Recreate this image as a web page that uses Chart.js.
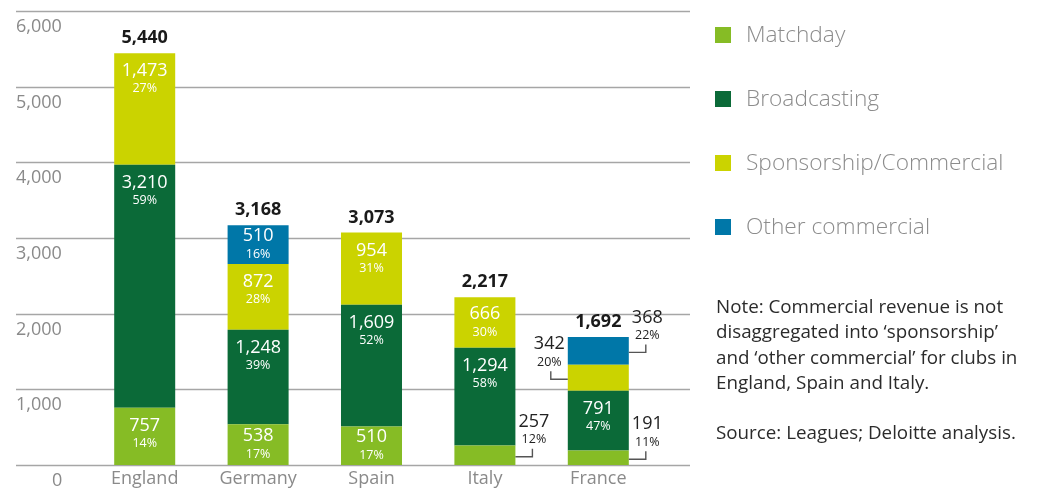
<!DOCTYPE html>
<html>
<head>
<meta charset="utf-8">
<script src="https://cdn.jsdelivr.net/npm/chart.js@4"></script>
<style>
  body { margin: 0; background: #fff; font-family: "Open Sans", sans-serif; }
  #wrap { position: relative; width: 1040px; height: 491px; overflow: hidden; }
  #chart { position: absolute; left: 0; top: 0; }
  .legend-item { position: absolute; left: 715px; height: 16px; }
  .legend-item .sw { position: absolute; left: 0; top: 0; width: 16px; height: 16px; }
  .legend-item .lbl { position: absolute; left: 31px; top: -8px; line-height: 30px; font-size: 22.7px; font-weight: 300; color: #8c8c8c; white-space: nowrap; }
  #note { position: absolute; left: 716px; top: 294px; font-size: 18.8px; line-height: 25.3px; color: #2b2b2b; white-space: nowrap; }
</style>
</head>
<body>
<div id="wrap">
  <canvas id="chart" width="1040" height="491"></canvas>
  <div id="legend"></div>
  <div id="note">Note: Commercial revenue is not<br>disaggregated into ‘sponsorship’<br>and ‘other commercial’ for clubs in<br>England, Spain and Italy.<br><br>Source: Leagues; Deloitte analysis.</div>
</div>
<script>
const categories = ['England', 'Germany', 'Spain', 'Italy', 'France'];
const seriesNames = ['Matchday', 'Broadcasting', 'Sponsorship/Commercial', 'Other commercial'];
const matchday = [757, 538, 510, 257, 191];
const broadcasting = [3210, 1248, 1609, 1294, 791];
const sponsorship = [1473, 872, 954, 666, 342];
const otherCommercial = [null, 510, null, null, 368];
const matchdayPct = [14, 17, 17, 12, 11];
const broadcastingPct = [59, 39, 52, 58, 47];
const sponsorshipPct = [27, 28, 31, 30, 20];
const otherPct = [null, 16, null, null, 22];
const totals = [5440, 3168, 3073, 2217, 1692];
const yTicks = [0, 1000, 2000, 3000, 4000, 5000, 6000];

const colors = ['#86bc25', '#0b6a38', '#cbd300', '#0077a8'];
const pcts = [matchdayPct, broadcastingPct, sponsorshipPct, otherPct];
// small segments labelled outside the bar: "dataset-category" -> side
const callouts = { '0-3': 'right', '0-4': 'right', '2-4': 'left', '3-4': 'right' };

const fmt = v => v.toLocaleString('en-US');

// legend as plain html
const legendEl = document.getElementById('legend');
seriesNames.forEach((name, i) => {
    const d = document.createElement('div');
    d.className = 'legend-item';
    d.style.top = (27 + i * 64) + 'px';
    d.innerHTML = `<div class="sw" style="background:${colors[i]}"></div><div class="lbl">${name}</div>`;
    legendEl.appendChild(d);
});

const gridPlugin = {
    id: 'grid',
    beforeDatasetsDraw(chart) {
        const ctx = chart.ctx;
        const y = chart.scales.y;
        ctx.save();
        ctx.strokeStyle = '#a6a6a6';
        ctx.lineWidth = 1.4;
        ctx.font = '18px "Open Sans"';
        ctx.fillStyle = '#8a8a8a';
        ctx.textAlign = 'left';
        ctx.textBaseline = 'middle';
        yTicks.forEach(v => {
            const py = Math.round(y.getPixelForValue(v)) + 0.5;
            ctx.beginPath();
            ctx.moveTo(16, py);
            ctx.lineTo(690, py);
            ctx.stroke();
            ctx.fillText(fmt(v), v === 0 ? 52 : 16, py + 15);
        });
        ctx.restore();
    }
};

const labelPlugin = {
    id: 'labels',
    afterDatasetsDraw(chart) {
        const ctx = chart.ctx;
        const xs = chart.scales.x, ys = chart.scales.y;
        ctx.save();
        ctx.textAlign = 'center';
        ctx.textBaseline = 'middle';

        // category names
        ctx.font = '18px "Open Sans"';
        ctx.fillStyle = '#8a8a8a';
        categories.forEach((c, j) => ctx.fillText(c, xs.getPixelForValue(j), 479));

        // totals
        ctx.font = 'bold 18px "Open Sans"';
        ctx.fillStyle = '#1a1a1a';
        totals.forEach((t, j) => ctx.fillText(fmt(t), xs.getPixelForValue(j), ys.getPixelForValue(t) - 15));

        chart.data.datasets.forEach((ds, i) => {
            const meta = chart.getDatasetMeta(i);
            meta.data.forEach((bar, j) => {
                const v = ds.data[j];
                if (v == null) return;
                const p = bar.getProps(['x', 'y', 'base', 'width'], true);
                const top = Math.min(p.y, p.base), bottom = Math.max(p.y, p.base);
                const h = bottom - top;
                const pct = pcts[i][j] + '%';
                const side = callouts[i + '-' + j];
                if (side) {
                    const edge = side === 'right' ? p.x + p.width / 2 : p.x - p.width / 2;
                    const dir = side === 'right' ? 1 : -1;
                    const ly = (top + bottom) / 2 + 1.5;
                    const lx = edge + dir * 17;
                    ctx.strokeStyle = '#555';
                    ctx.lineWidth = 1.4;
                    ctx.beginPath();
                    ctx.moveTo(edge, ly);
                    ctx.lineTo(lx, ly);
                    ctx.lineTo(lx, ly - 8);
                    ctx.stroke();
                    const tx = edge + dir * 18.5;
                    ctx.fillStyle = '#222';
                    ctx.font = '18px "Open Sans"';
                    ctx.fillText(fmt(v), tx, ly - 35);
                    ctx.font = '12.5px "Open Sans"';
                    ctx.fillText(pct, tx, ly - 17);
                } else {
                    let vy, py;
                    if (h < 55) {
                        const cy = (top + bottom) / 2;
                        vy = cy - 9; py = cy + 9.5;
                    } else {
                        vy = top + 18; py = top + 35.5;
                    }
                    ctx.fillStyle = '#fff';
                    ctx.font = '18px "Open Sans"';
                    ctx.fillText(fmt(v), p.x, vy);
                    ctx.font = '12.5px "Open Sans"';
                    ctx.fillText(pct, p.x, py);
                }
            });
        });
        ctx.restore();
    }
};

const datasets = [matchday, broadcasting, sponsorship, otherCommercial].map((d, i) => ({
    label: seriesNames[i],
    data: d,
    backgroundColor: colors[i],
    borderWidth: 0,
    categoryPercentage: 1,
    barPercentage: 0.538
}));

new Chart(document.getElementById('chart').getContext('2d'), {
    type: 'bar',
    data: { labels: categories, datasets },
    options: {
        responsive: false,
        animation: false,
        devicePixelRatio: 1,
        layout: { padding: { left: 88, right: 385, top: 11, bottom: 26 } },
        plugins: { legend: { display: false }, tooltip: { enabled: false } },
        scales: {
            x: { stacked: true, display: false },
            y: { stacked: true, display: false, min: 0, max: 6000, ticks: { stepSize: 1000 } }
        }
    },
    plugins: [gridPlugin, labelPlugin]
});
</script>
</body>
</html>
